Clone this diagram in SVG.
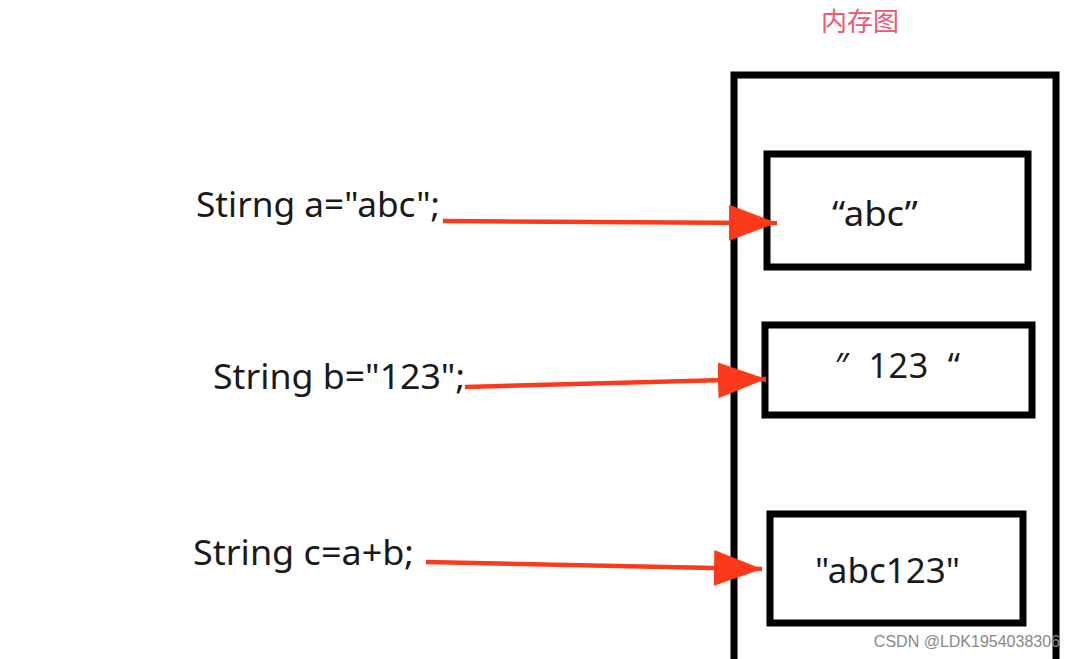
<svg xmlns="http://www.w3.org/2000/svg" width="1077" height="659" viewBox="0 0 1077 659">
<style>
.code{font-family:"Noto Sans","Open Sans","Liberation Sans",sans-serif;font-size:34px;fill:#1a1a1a}
.box{fill:#ffffff;stroke:#000000;stroke-width:7}
.arr{stroke:#fa3a1a;stroke-width:4.5;fill:none}
</style>
<defs>
<marker id="ah" markerUnits="userSpaceOnUse" markerWidth="50" markerHeight="36" refX="48" refY="18" orient="auto">
<path d="M0,0 L48,18 L0,36 Z" fill="#fa3a1a"/>
</marker>
</defs>
<rect width="1077" height="659" fill="#ffffff"/>
<text x="860" y="31" text-anchor="middle" font-family="'Noto Sans CJK SC',sans-serif" font-size="26" fill="#f25670">内存图</text>
<g id="memory">
<rect class="box" x="734" y="75" width="322" height="620"/>
</g>
<g id="box-abc">
<rect class="box" x="767" y="154" width="261" height="113"/>
<text class="code" x="832" y="226" textLength="86" lengthAdjust="spacingAndGlyphs">“abc”</text>
</g>
<g id="box-123">
<rect class="box" x="765" y="325" width="267" height="90"/>
<text class="code" x="835" y="378" xml:space="preserve" textLength="125" lengthAdjust="spacing">″  123  “</text>
</g>
<g id="box-abc123">
<rect class="box" x="770" y="514" width="253" height="109"/>
<text class="code" x="815" y="583" textLength="145" lengthAdjust="spacingAndGlyphs">"abc123"</text>
</g>
<g id="code-a"><text class="code" x="196" y="217" textLength="244" lengthAdjust="spacingAndGlyphs">Stirng a="abc";</text></g>
<g id="code-b"><text class="code" x="213" y="389" textLength="252" lengthAdjust="spacingAndGlyphs">String b="123";</text></g>
<g id="code-c"><text class="code" x="193" y="565" textLength="221" lengthAdjust="spacingAndGlyphs">String c=a+b;</text></g>
<g id="connectors">
<line class="arr" x1="443" y1="221" x2="777" y2="223" marker-end="url(#ah)"/>
<line class="arr" x1="465" y1="387" x2="766" y2="379" marker-end="url(#ah)"/>
<line class="arr" x1="426" y1="562" x2="762" y2="569" marker-end="url(#ah)"/>
</g>
<text x="1060" y="647" text-anchor="end" font-family="'Liberation Sans',sans-serif" font-size="16" fill="#888888">CSDN @LDK1954038306</text>
</svg>
